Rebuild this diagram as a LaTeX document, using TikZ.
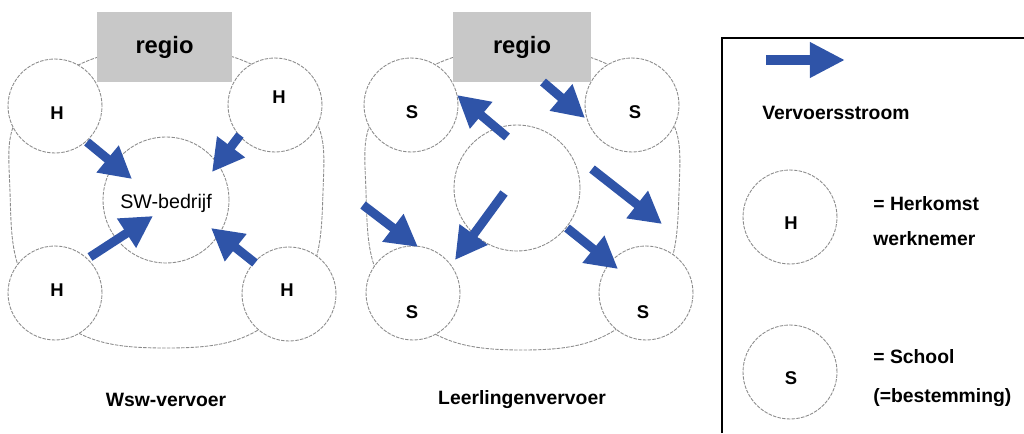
\documentclass[tikz,border=0pt]{standalone}
\usepackage{fontspec}
\setmainfont{Liberation Sans}
\usetikzlibrary{arrows.meta}
\definecolor{flowc}{HTML}{2F54A8}
\definecolor{regioc}{HTML}{C8C8C8}
\tikzset{
  spot/.style={circle, draw=black!45, fill=white, line width=0.5pt,
    dash pattern=on 2pt off 0.7pt, inner sep=0pt, minimum size=1.88cm},
  ring/.style={draw=black!45, line width=0.5pt, dash pattern=on 2pt off 0.7pt},
  flow/.style={flowc, line width=5.1pt, -{Triangle[length=18pt,width=18.7pt]}},
  regiobox/.style={rectangle, fill=regioc, minimum width=2.7cm, minimum height=1.4cm,
    inner sep=0pt, font=\fontsize{13.5}{16}\selectfont\bfseries},
  tag/.style={inner sep=0pt, font=\fontsize{10.5}{12}\selectfont\bfseries},
  capt/.style={inner sep=0pt, font=\fontsize{11}{13}\selectfont\bfseries},
  legtext/.style={inner sep=0pt, anchor=west, align=left,
    font=\fontsize{11}{20}\selectfont\bfseries},
}

\begin{document}
\begin{tikzpicture}[x=0.02cm, y=-0.02cm]
  \useasboundingbox (0,0) rectangle (1024,433);

  \draw[ring] plot[smooth cycle, tension=0.8] coordinates
    {(166,48) (293,93) (323,192) (286,308) (166,348) (45,308) (10,192) (38,93)};
  \draw[ring] plot[smooth cycle, tension=0.8] coordinates
    {(522,48) (649,93) (679,192) (642,308) (522,350) (401,308) (366,192) (394,93)};

  \node[spot] (h1) at (55,106) {};
  \node[spot] (h2) at (275,105) {};
  \node[spot, minimum size=2.52cm] (sw) at (166,200) {};
  \node[spot] (h3) at (55,293) {};
  \node[spot] (h4) at (289,294) {};
  \node[regiobox] (reg1) at (164.5,47) {regio};
  \node[tag] (h1t) at (57,113) {H};
  \node[tag] (h2t) at (279,97) {H};
  \node[tag] (h3t) at (57,290) {H};
  \node[tag] (h4t) at (287,290) {H};
  \node[inner sep=0pt, font=\fontsize{11.2}{13}\selectfont] (swt) at (166,203) {SW-bedrijf};
  \node[capt] (cap1) at (166,400) {Wsw-vervoer};

  \node[spot] (s1) at (411,105) {};
  \node[spot] (s2) at (632,105) {};
  \node[spot, minimum size=2.52cm] (mid) at (517,188) {};
  \node[spot] (s3) at (413,293) {};
  \node[spot] (s4) at (646,293) {};
  \node[regiobox, minimum width=2.76cm] (reg2) at (522,47) {regio};
  \node[tag] (s1t) at (412,112) {S};
  \node[tag] (s2t) at (635,112) {S};
  \node[tag] (s3t) at (412,312) {S};
  \node[tag] (s4t) at (643,312) {S};
  \node[capt] (cap2) at (522,400) {Leerlingenvervoer};

  \coordinate (f1a) at (87,142);  \coordinate (f1b) at (132,179);
  \coordinate (f2a) at (240,135); \coordinate (f2b) at (212,172);
  \coordinate (f3a) at (90,257);  \coordinate (f3b) at (153,216);
  \coordinate (f4a) at (255,263); \coordinate (f4b) at (211,228);
  \draw[flow] (f1a) -- (f1b);
  \draw[flow] (f2a) -- (f2b);
  \draw[flow] (f3a) -- (f3b);
  \draw[flow] (f4a) -- (f4b);

  \coordinate (g1a) at (507,137); \coordinate (g1b) at (457,95);
  \coordinate (g2a) at (543,82);  \coordinate (g2b) at (585,118);
  \coordinate (g3a) at (592,169); \coordinate (g3b) at (662,224);
  \coordinate (g4a) at (504,193); \coordinate (g4b) at (455,260);
  \coordinate (g5a) at (567,228); \coordinate (g5b) at (618,269);
  \coordinate (g6a) at (363,205); \coordinate (g6b) at (418,247);
  \draw[flow] (g1a) -- (g1b);
  \draw[flow] (g2a) -- (g2b);
  \draw[flow] (g3a) -- (g3b);
  \draw[flow] (g4a) -- (g4b);
  \draw[flow] (g5a) -- (g5b);
  \draw[flow] (g6a) -- (g6b);

  \draw[line width=1.2pt] (722,433) -- (722,38) -- (1024,38);
  \coordinate (lfa) at (766,60); \coordinate (lfb) at (845,60);
  \draw[flow, line width=5.7pt, -{Triangle[length=20pt,width=19pt]}] (lfa) -- (lfb);
  \node[capt, anchor=west] (lflow) at (762,113) {Vervoersstroom};
  \node[spot] (lh) at (790,217) {};
  \node[tag] (lht) at (791,223) {H};
  \node[legtext] (lhtxt) at (873,221) {= Herkomst\\werknemer};
  \node[spot] (ls) at (790,372) {};
  \node[tag] (lst) at (791,378) {S};
  \node[legtext] (lstxt) at (873,378) {= School\\[2pt](=bestemming)};
\end{tikzpicture}
\end{document}
